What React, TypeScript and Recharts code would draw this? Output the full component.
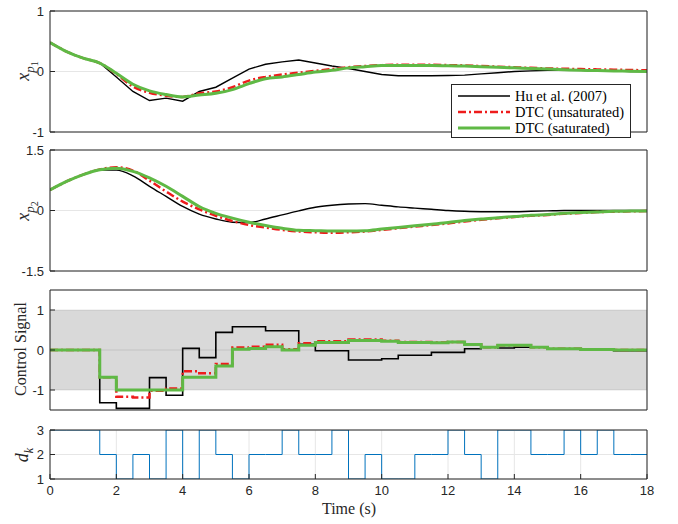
import React from 'react';
import { LineChart, Line, XAxis, YAxis, CartesianGrid, ReferenceArea } from 'recharts';

const TIME = [0, 0.5, 1, 1.5, 2, 2.5, 3, 3.5, 4, 4.5, 5, 5.5, 6, 6.5, 7, 7.5, 8, 8.5, 9, 9.5, 10, 10.5, 11, 11.5, 12, 12.5, 13, 13.5, 14, 14.5, 15, 15.5, 16, 16.5, 17, 17.5, 18];

const SERIES_NAMES = ['Hu et al. (2007)', 'DTC (unsaturated)', 'DTC (saturated)'];

const XP1_HU = [0.48, 0.33, 0.22, 0.14, -0.09, -0.33, -0.48, -0.44, -0.49, -0.33, -0.26, -0.11, 0.04, 0.12, 0.16, 0.19, 0.14, 0.09, 0.05, 0.0, -0.05, -0.07, -0.07, -0.07, -0.065, -0.06, -0.04, -0.02, 0.0, 0.01, 0.02, 0.02, 0.02, 0.01, 0.01, 0.0, 0.0];
const XP1_UNSAT = [0.48, 0.33, 0.22, 0.14, -0.04, -0.25, -0.35, -0.4, -0.42, -0.36, -0.33, -0.26, -0.15, -0.09, -0.05, -0.02, 0.01, 0.04, 0.07, 0.09, 0.105, 0.11, 0.11, 0.11, 0.105, 0.1, 0.09, 0.08, 0.07, 0.06, 0.05, 0.045, 0.04, 0.035, 0.03, 0.025, 0.02];
const XP1_SAT = [0.48, 0.33, 0.22, 0.14, -0.03, -0.21, -0.32, -0.38, -0.42, -0.39, -0.36, -0.3, -0.2, -0.12, -0.09, -0.05, -0.01, 0.02, 0.06, 0.08, 0.1, 0.1, 0.1, 0.1, 0.095, 0.09, 0.08, 0.07, 0.06, 0.05, 0.04, 0.03, 0.02, 0.015, 0.01, 0.005, 0.0];

const XP2_HU = [0.51, 0.72, 0.89, 1.0, 1.0, 0.86, 0.6, 0.35, 0.1, -0.09, -0.21, -0.29, -0.3, -0.21, -0.11, -0.01, 0.08, 0.13, 0.16, 0.17, 0.13, 0.09, 0.06, 0.03, 0.0, -0.02, -0.03, -0.03, -0.03, -0.02, -0.01, 0.0, 0.0, 0.0, 0.0, 0.0, 0.0];
const XP2_UNSAT = [0.51, 0.72, 0.89, 1.02, 1.07, 0.99, 0.74, 0.47, 0.22, 0.03, -0.13, -0.26, -0.36, -0.42, -0.48, -0.52, -0.54, -0.55, -0.54, -0.52, -0.48, -0.44, -0.4, -0.36, -0.32, -0.27, -0.23, -0.19, -0.16, -0.13, -0.11, -0.08, -0.06, -0.04, -0.03, -0.02, -0.015];
const XP2_SAT = [0.51, 0.72, 0.89, 1.01, 1.05, 0.97, 0.81, 0.6, 0.35, 0.1, -0.07, -0.19, -0.29, -0.37, -0.44, -0.49, -0.5, -0.51, -0.51, -0.5, -0.46, -0.42, -0.38, -0.34, -0.3, -0.25, -0.21, -0.18, -0.15, -0.12, -0.1, -0.07, -0.05, -0.035, -0.02, -0.015, -0.01];

// control signal, one value per 0.5 s interval
const U_HU = [0, 0, 0, -1.32, -1.46, -1.46, -0.69, -1.13, 0.04, -0.19, 0.44, 0.58, 0.58, 0.48, 0.48, 0.14, -0.02, -0.02, -0.25, -0.25, -0.22, -0.13, -0.13, -0.06, -0.06, 0.03, 0.08, 0.05, 0.07, 0.07, 0.03, 0.03, 0.01, 0.01, -0.02, -0.02];
const U_UNSAT = [0, 0, 0, -0.68, -1.17, -1.19, -1.02, -0.96, -0.53, -0.58, -0.35, 0.06, 0.08, 0.13, 0.02, 0.17, 0.22, 0.22, 0.26, 0.26, 0.23, 0.2, 0.2, 0.19, 0.2, 0.14, 0.07, 0.12, 0.12, 0.07, 0.03, 0.03, 0.01, 0.01, 0.0, 0.0];
const U_SAT = [0, 0, 0, -0.68, -1.0, -1.0, -1.0, -1.0, -0.68, -0.68, -0.4, 0.02, 0.04, 0.08, 0.0, 0.12, 0.19, 0.19, 0.24, 0.24, 0.22, 0.19, 0.19, 0.18, 0.2, 0.14, 0.07, 0.12, 0.12, 0.07, 0.03, 0.03, 0.01, 0.01, 0.0, 0.0];

const DK = [3, 3, 3, 2, 1, 2, 1, 3, 1, 3, 2, 1, 2, 2, 3, 2, 2, 3, 1, 2, 1, 1, 2, 2, 3, 2, 1, 3, 3, 2, 2, 3, 2, 3, 2, 2];

const X_TICKS = [0, 2, 4, 6, 8, 10, 12, 14, 16, 18];
const XP1_TICKS = [-1, 0, 1];
const XP2_TICKS = [-1.5, 0, 1.5];
const U_TICKS = [-1, 0, 1];
const DK_TICKS = [1, 2, 3];
const U_LIMIT = [-1, 1];

const COLORS = { hu: '#000000', unsat: '#ee1c1c', sat: '#5fb945', dk: '#0072bd', axis: '#262626', grid: '#e6e6e6' };

const hold = (arr: number[], i: number) => arr[Math.min(i, arr.length - 1)];

const data = TIME.map((t, i) => ({
  t,
  p1h: XP1_HU[i], p1u: XP1_UNSAT[i], p1s: XP1_SAT[i],
  p2h: XP2_HU[i], p2u: XP2_UNSAT[i], p2s: XP2_SAT[i],
  uh: hold(U_HU, i), uu: hold(U_UNSAT, i), us: hold(U_SAT, i),
  dk: hold(DK, i),
}));

const tickStyle = { fill: COLORS.axis, fontSize: 13, fontFamily: '"Liberation Sans", Arial, sans-serif' };
const axisStroke = { stroke: COLORS.axis, strokeWidth: 1 };

function Panel(props: any) {
  const { top, height, mTop, mBottom, domain, yTicks, showX, children } = props;
  return (
    <div style={{ position: 'absolute', left: 0, top }}>
      <LineChart width={678} height={height} data={data} margin={{ top: mTop, right: 30, bottom: mBottom, left: 0 }}>
        <CartesianGrid xAxisId="b" yAxisId="l" stroke={COLORS.grid} strokeWidth={1} />
        <XAxis xAxisId="b" dataKey="t" type="number" domain={[0, 18]} ticks={X_TICKS} height={1}
          tickSize={-5} tickMargin={12} axisLine={axisStroke} tickLine={axisStroke}
          tick={showX ? tickStyle : false} interval={0} allowDataOverflow />
        <XAxis xAxisId="t" orientation="top" dataKey="t" type="number" domain={[0, 18]} ticks={X_TICKS} height={1}
          tickSize={-5} axisLine={axisStroke} tickLine={axisStroke} tick={false} interval={0} allowDataOverflow />
        <YAxis yAxisId="l" type="number" domain={domain} ticks={yTicks} width={50} tickSize={-5} tickMargin={11}
          axisLine={axisStroke} tickLine={axisStroke} tick={tickStyle} interval={0} allowDataOverflow />
        <YAxis yAxisId="r" orientation="right" type="number" domain={domain} ticks={yTicks} width={1} tickSize={-5}
          axisLine={axisStroke} tickLine={axisStroke} tick={false} interval={0} allowDataOverflow />
        {children}
      </LineChart>
    </div>
  );
}

const lineProps = { xAxisId: 'b', yAxisId: 'l', dot: false, activeDot: false, isAnimationActive: false };

const serifFont = '"Liberation Serif", "DejaVu Serif", serif';

function YLabel({ x, y, children, size }: any) {
  return (
    <div style={{ position: 'absolute', left: x, top: y, transform: 'translate(-50%, -50%) rotate(-90deg)', whiteSpace: 'nowrap', fontFamily: serifFont, fontSize: size, color: COLORS.axis, lineHeight: 1 }}>
      {children}
    </div>
  );
}

function LegendBox() {
  const items = [
    { name: SERIES_NAMES[0], color: COLORS.hu, w: 1.5, dash: undefined },
    { name: SERIES_NAMES[1], color: COLORS.unsat, w: 2.5, dash: '8 3 2 3' },
    { name: SERIES_NAMES[2], color: COLORS.sat, w: 3, dash: undefined },
  ];
  return (
    <div style={{ position: 'absolute', left: 451, top: 84, width: 180, height: 54, border: `1px solid ${COLORS.axis}`, background: '#fff', boxSizing: 'border-box' }}>
      {items.map((it, i) => (
        <div key={i} style={{ position: 'absolute', left: 0, top: 3 + i * 16, height: 16, display: 'flex', alignItems: 'center' }}>
          <svg width={60} height={16} style={{ display: 'block' }}>
            <line x1={6} x2={58} y1={8} y2={8} stroke={it.color} strokeWidth={it.w} strokeDasharray={it.dash} />
          </svg>
          <span style={{ marginLeft: 3, fontFamily: serifFont, fontSize: 14.5, color: '#000', whiteSpace: 'nowrap' }}>{it.name}</span>
        </div>
      ))}
    </div>
  );
}

export default function App() {
  return (
    <div style={{ position: 'absolute', left: 0, top: 0, width: 678, height: 524, background: '#fff', overflow: 'hidden' }}>
      <Panel top={0} height={140} mTop={10} mBottom={7} domain={[-1, 1]} yTicks={XP1_TICKS}>
        <Line {...lineProps} type="linear" dataKey="p1h" stroke={COLORS.hu} strokeWidth={1.4} />
        <Line {...lineProps} type="monotone" dataKey="p1u" stroke={COLORS.unsat} strokeWidth={2.5} strokeDasharray="8 3 2 3" />
        <Line {...lineProps} type="monotone" dataKey="p1s" stroke={COLORS.sat} strokeWidth={3} />
      </Panel>
      <Panel top={140} height={140} mTop={9} mBottom={8} domain={[-1.5, 1.5]} yTicks={XP2_TICKS}>
        <Line {...lineProps} type="monotone" dataKey="p2h" stroke={COLORS.hu} strokeWidth={1.4} />
        <Line {...lineProps} type="monotone" dataKey="p2u" stroke={COLORS.unsat} strokeWidth={2.5} strokeDasharray="8 3 2 3" />
        <Line {...lineProps} type="monotone" dataKey="p2s" stroke={COLORS.sat} strokeWidth={3} />
      </Panel>
      <Panel top={280} height={140} mTop={9} mBottom={9} domain={[-1.5, 1.5]} yTicks={U_TICKS}>
        <ReferenceArea xAxisId="b" yAxisId="l" x1={0} x2={18} y1={U_LIMIT[0]} y2={U_LIMIT[1]} fill="#000" fillOpacity={0.15} stroke="none" ifOverflow="hidden" />
        <Line {...lineProps} type="stepAfter" dataKey="uh" stroke={COLORS.hu} strokeWidth={1.6} />
        <Line {...lineProps} type="stepAfter" dataKey="uu" stroke={COLORS.unsat} strokeWidth={2.5} strokeDasharray="8 3 2 3" />
        <Line {...lineProps} type="stepAfter" dataKey="us" stroke={COLORS.sat} strokeWidth={3} />
      </Panel>
      <Panel top={420} height={104} mTop={9} mBottom={44} domain={[1, 3]} yTicks={DK_TICKS} showX>
        <Line {...lineProps} type="stepAfter" dataKey="dk" stroke={COLORS.dk} strokeWidth={1} />
      </Panel>
      <LegendBox />
      <YLabel x={27} y={71} size={18}><i>x</i><sub style={{ fontSize: 13 }}><i>p</i><sub style={{ fontSize: 10 }}>1</sub></sub></YLabel>
      <YLabel x={27} y={211} size={18}><i>x</i><sub style={{ fontSize: 13 }}><i>p</i><sub style={{ fontSize: 10 }}>2</sub></sub></YLabel>
      <YLabel x={21} y={349} size={16}>Control Signal</YLabel>
      <YLabel x={24} y={455} size={18}><i>d</i><sub style={{ fontSize: 12 }}><i>k</i></sub></YLabel>
      <div style={{ position: 'absolute', left: 349, top: 509, transform: 'translate(-50%, -50%)', fontFamily: serifFont, fontSize: 16, color: COLORS.axis, whiteSpace: 'nowrap' }}>Time (s)</div>
    </div>
  );
}
